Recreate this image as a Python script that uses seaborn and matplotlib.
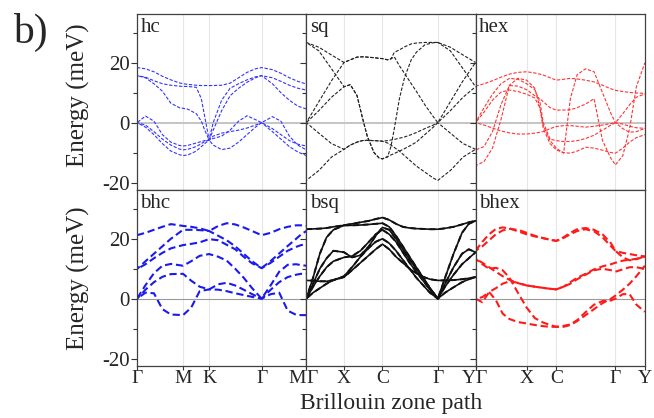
import matplotlib
matplotlib.use("Agg")
import matplotlib.pyplot as plt
import seaborn as sns

# ---- high-symmetry paths (fraction of the path length) ----
hc_ticks = [0, 0.272, 0.426, 0.736, 1]
hc_labels = ["Γ", "M", "K", "Γ", "M"]
sq_ticks = [0, 0.223, 0.45, 0.777, 1]
sq_labels = ["Γ", "X", "C", "Γ", "Y"]
hex_ticks = [0, 0.302, 0.477, 0.826, 1]
hex_labels = ["Γ", "X", "C", "Γ", "Y"]

# ---- top row: hc ----
hc_k = [0, .05, .1, .15, .2, .25, .272, .3, .35, .38, .4, .426, .45, .5, .55, .6, .65, .7, .736, .8, .85, .9, .95, 1]
hc_bands = [
    [18.4, 18.0, 17.0, 15.5, 14.3, 13.3, 13.0, 12.8, 12.5, 12.4, 12.4, 12.4, 12.4, 12.5, 13.2, 15.0, 16.8, 18.0, 18.4, 17.7, 16.5, 15.0, 13.8, 12.9],
    [15.7, 15.2, 14.0, 13.0, 12.5, 12.2, 12.1, 12.1, 11.8, 8.0, 2.0, -5.8, 0.0, 7.5, 11.5, 13.0, 14.3, 15.3, 15.7, 15.0, 13.8, 12.5, 11.5, 10.9],
    [15.7, 15.0, 13.0, 10.5, 6.5, 5.0, 4.8, 4.5, 3.0, 0.5, -2.5, -5.8, -2.5, 4.0, 9.0, 11.5, 13.5, 15.0, 15.7, 13.0, 10.0, 7.5, 5.5, 4.6],
    [0.0, 2.2, 0.5, -4.0, -6.5, -7.6, -7.8, -7.6, -6.8, -6.3, -6.0, -5.8, -5.3, -4.5, -2.5, 0.5, 2.3, 1.0, 0.0, -2.0, -4.0, -6.0, -7.2, -7.8],
    [0.0, -0.8, -3.0, -5.5, -7.5, -8.8, -9.1, -8.9, -8.0, -7.0, -6.3, -5.8, -7.5, -9.0, -8.5, -6.5, -4.0, -1.5, 0.0, 2.0, 0.5, -4.5, -7.5, -9.1],
    [0.0, -1.5, -4.0, -7.0, -9.5, -10.7, -11.0, -10.8, -9.5, -8.0, -7.0, -5.8, -4.5, -3.5, -3.0, -2.5, -1.8, -0.8, 0.0, -3.0, -5.5, -8.0, -9.8, -11.0],
]

# ---- top row: sq ----
sq_k = [0, .074, .149, .223, .26, .30, .33, .36, .40, .43, .45, .48, .50, .52, .55, .58, .62, .65, .70, .75, .777, .851, .926, 1]
sq_bands = [
    [26.8, 25.2, 22.6, 20.1, 21.0, 21.9, 22.0, 21.9, 21.7, 21.5, 21.4, 21.0, 21.3, 23.5, 24.3, 25.3, 26.3, 26.6, 26.8, 26.8, 26.8, 25.2, 22.6, 20.1],
    [0.0, 7.0, 14.0, 20.1, 21.0, 21.9, 22.0, 21.9, 21.7, 21.5, 21.4, 21.0, 21.3, 22.0, 19.0, 16.5, 13.0, 10.5, 6.0, 2.0, 0.0, 7.0, 14.0, 20.1],
    [26.8, 24.0, 18.0, 12.0, 12.7, 9.0, 2.0, -4.5, -10.0, -11.8, -12.1, -11.5, -8.0, -2.0, 8.0, 15.0, 21.0, 23.5, 26.0, 26.7, 26.8, 24.0, 18.0, 12.0],
    [0.0, 4.0, 8.5, 12.0, 12.7, 9.0, 2.0, -4.5, -10.0, -11.8, -12.1, -11.3, -10.8, -10.3, -9.5, -8.7, -7.5, -6.5, -4.0, -1.5, 0.0, 4.0, 8.5, 12.0],
    [0.0, -3.5, -7.0, -8.9, -7.5, -6.5, -6.0, -5.9, -6.0, -6.1, -6.2, -6.0, -5.8, -5.6, -5.2, -4.8, -4.0, -3.3, -2.0, -0.8, 0.0, -3.5, -7.0, -8.9],
    [-19.3, -16.0, -11.5, -8.9, -7.5, -6.5, -6.0, -5.9, -6.0, -6.1, -6.2, -6.8, -7.5, -8.3, -9.5, -11.0, -13.0, -14.5, -16.5, -18.5, -19.3, -16.0, -11.5, -8.9],
]

# ---- top row: hex ----
hex_k = [0, .05, .1, .15, .2, .25, .302, .35, .38, .40, .44, .477, .52, .56, .6, .65, .7, .75, .8, .826, .87, .91, .95, 1]
hex_bands = [
    [12.2, 13.0, 14.0, 15.2, 16.2, 16.8, 17.0, 16.6, 16.2, 15.9, 15.0, 14.2, 14.5, 14.8, 14.6, 14.2, 13.6, 12.5, 11.3, 10.8, 10.4, 10.1, 9.9, 9.8],
    [0.0, 5.0, 9.5, 13.0, 14.8, 14.5, 13.0, 11.0, 7.0, 0.0, -5.5, -6.0, -6.3, -6.3, -6.0, -5.3, -4.2, -2.5, -0.8, 0.0, 3.0, 6.0, 8.5, 9.6],
    [0.0, 3.5, 7.5, 10.2, 10.9, 10.4, 9.5, 8.2, 5.0, -1.0, -6.0, -8.5, -10.2, 8.0, 16.0, 18.0, 17.0, 10.0, 3.0, 0.0, -2.0, -3.2, -3.0, -1.9],
    [-9.1, -8.0, -3.0, 6.0, 12.4, 12.2, 11.0, 9.0, 8.0, 7.0, 5.0, 4.2, 4.2, 4.3, 5.0, 6.2, 8.0, -6.0, -12.0, -14.1, -11.0, -2.0, 12.0, 20.0],
    [-14.4, -13.0, -8.5, 1.0, 12.5, 14.8, 14.2, 11.5, 5.0, -2.0, -7.0, -9.1, -10.0, -10.2, -9.5, -8.2, -8.5, -9.2, -10.0, -10.2, -8.5, -6.5, -5.0, -4.0],
    [0.0, -0.8, -1.8, -2.8, -3.4, -3.8, -3.8, -3.5, -3.2, -3.0, -2.0, -1.3, -1.0, -1.0, -1.2, -1.5, -1.2, -0.8, -0.3, 0.0, -0.5, -1.2, -1.7, -1.9],
]

# ---- bottom row: bhc ----
bhc_k = [0, .05, .1, .15, .2, .272, .32, .37, .426, .48, .53, .58, .63, .68, .736, .79, .84, .89, .94, .97, 1]
bhc_bands = [
    [21.2, 22.0, 23.0, 24.0, 24.9, 24.3, 24.0, 23.5, 22.6, 24.3, 25.2, 24.8, 23.8, 22.6, 21.2, 22.0, 23.2, 24.0, 24.5, 24.5, 24.3],
    [9.9, 12.5, 15.0, 17.5, 20.0, 23.0, 23.0, 22.9, 22.6, 21.0, 19.5, 17.5, 15.0, 12.5, 10.2, 12.6, 15.1, 17.6, 20.0, 21.5, 22.6],
    [9.9, 11.5, 13.5, 15.3, 16.8, 17.9, 18.3, 18.8, 19.9, 19.5, 18.0, 16.5, 14.0, 11.8, 10.2, 12.0, 14.0, 16.0, 17.3, 17.9, 18.2],
    [0.0, 4.5, 8.5, 11.0, 11.6, 11.0, 12.5, 14.3, 14.9, 14.0, 12.7, 10.0, 7.0, 3.5, 0.0, 4.5, 9.0, 11.3, 11.5, 11.2, 11.0],
    [0.0, 3.0, 5.5, 7.3, 8.2, 8.3, 6.0, 4.0, 3.1, 4.8, 5.3, 4.4, 3.0, 1.5, 0.0, 3.0, 5.5, 7.2, 8.0, 8.3, 8.3],
    [0.0, 2.0, 1.8, -3.5, -5.3, -5.5, -3.0, 2.5, 3.1, 3.0, 2.5, 1.8, 1.2, 0.6, 0.0, 1.5, 2.0, -4.0, -5.4, -5.5, -5.5],
]

# ---- bottom row: bsq ----
bsq_k = [0, .04, .08, .12, .16, .223, .27, .32, .37, .41, .45, .49, .53, .57, .61, .65, .69, .73, .777, .82, .87, .92, .96, 1]
bsq_bands = [
    [23.2, 23.3, 23.4, 23.6, 24.0, 24.5, 25.0, 25.5, 26.0, 26.6, 27.1, 26.3, 25.0, 24.0, 23.6, 23.4, 23.3, 23.2, 23.2, 23.5, 24.0, 24.8, 25.5, 26.0],
    [0.0, 7.0, 15.0, 20.5, 23.0, 24.5, 24.5, 24.6, 24.8, 25.0, 25.2, 24.0, 21.0, 17.5, 14.0, 10.5, 7.0, 3.5, 0.0, 7.0, 15.0, 22.0, 25.0, 26.0],
    [0.0, 5.0, 10.0, 13.5, 16.0, 15.5, 13.8, 14.5, 17.5, 21.0, 23.8, 23.0, 20.0, 16.5, 13.0, 10.0, 7.0, 3.5, 0.0, 5.0, 10.5, 15.0, 16.5, 15.5],
    [6.1, 6.0, 5.8, 5.8, 6.2, 7.2, 9.5, 12.0, 14.5, 16.5, 18.2, 16.5, 14.0, 12.0, 10.0, 8.5, 7.3, 6.5, 6.1, 6.1, 6.2, 6.5, 6.8, 7.2],
    [0.0, 2.0, 3.5, 5.0, 6.2, 7.5, 10.5, 14.0, 17.0, 19.0, 20.0, 18.5, 16.0, 13.0, 10.0, 7.0, 4.5, 2.0, 0.0, 2.0, 3.8, 5.5, 6.5, 7.2],
    [0.0, 4.0, 7.5, 10.5, 12.5, 13.8, 14.2, 16.0, 19.0, 21.5, 23.0, 21.5, 19.0, 15.5, 12.0, 9.0, 6.0, 3.0, 0.0, 4.0, 8.0, 11.5, 13.5, 15.5],
]

# ---- bottom row: bhex ----
bhex_k = [0, .04, .08, .12, .16, .2, .25, .302, .35, .4, .44, .477, .52, .56, .6, .65, .7, .75, .8, .826, .87, .91, .95, 1]
bhex_bands = [
    [16.0, 19.0, 21.5, 23.3, 23.8, 23.5, 22.5, 21.5, 20.8, 20.2, 19.7, 19.3, 20.3, 21.5, 22.6, 23.2, 22.5, 20.5, 17.5, 16.0, 15.3, 14.9, 14.5, 14.1],
    [16.0, 17.5, 19.5, 21.5, 22.8, 23.3, 23.0, 22.0, 21.0, 20.2, 19.7, 19.3, 20.5, 22.0, 23.2, 23.6, 23.0, 21.5, 18.5, 16.0, 13.8, 12.8, 13.2, 14.1],
    [13.3, 12.0, 10.5, 9.0, 7.5, 6.3, 5.2, 4.4, 4.0, 3.6, 3.3, 3.1, 4.0, 5.5, 7.0, 8.3, 9.8, 10.8, 11.5, 12.0, 12.7, 13.0, 13.3, 14.1],
    [0.0, -1.2, 2.2, 3.5, 5.0, 5.8, 5.3, 4.4, 4.0, 3.6, 3.3, 3.1, 4.0, 5.0, 6.5, 8.0, 9.5, 10.0, 9.5, 9.0, 9.8, 10.5, 10.5, 9.9],
    [13.3, 11.5, 10.0, 10.3, 9.5, 7.0, 2.0, -3.0, -6.5, -8.0, -8.8, -9.4, -9.4, -8.8, -7.5, -5.5, -3.5, -1.5, 0.0, 1.0, 3.0, 5.0, 7.5, 11.0],
    [0.0, 0.5, 2.2, -0.5, -5.0, -6.8, -7.8, -8.3, -8.8, -9.2, -9.4, -9.4, -9.1, -8.6, -7.2, -4.5, -2.0, -0.8, -0.6, 0.0, 1.5, 1.5, -2.0, -4.4],
]

sns.set_theme(style="white")
plt.rcParams['font.family'] = ['Liberation Serif', 'DejaVu Serif']

fig, axes = plt.subplots(2, 3, figsize=(6.54, 4.18), dpi=100, sharey=True)
fig.subplots_adjust(left=0.2095, right=0.986, top=0.9665, bottom=0.1244, wspace=0, hspace=0)

panels = [
    (axes[0, 0], hc_k, hc_bands, hc_ticks, hc_labels, "hc", "#3333ff", "top"),
    (axes[0, 1], sq_k, sq_bands, sq_ticks, sq_labels, "sq", "#222222", "top"),
    (axes[0, 2], hex_k, hex_bands, hex_ticks, hex_labels, "hex", "#ff3333", "top"),
    (axes[1, 0], bhc_k, bhc_bands, hc_ticks, hc_labels, "bhc", "#1a1aee", "bottom"),
    (axes[1, 1], bsq_k, bsq_bands, sq_ticks, sq_labels, "bsq", "#111111", "bsq"),
    (axes[1, 2], bhex_k, bhex_bands, hex_ticks, hex_labels, "bhex", "#ff1a1a", "bottom"),
]

for ax, k, bands, ticks, labels, name, color, kind in panels:
    for t in ticks[1:-1]:
        ax.axvline(t, color="#e6e6e6", lw=0.8, zorder=0)
    if kind == "top":
        ax.axhline(0, color="#c4c4c4", lw=1.4, zorder=1)
    else:
        ax.axhline(0, color="#9a9a9a", lw=0.8, zorder=1)

    for i, E in enumerate(bands):
        if kind == "top":
            sns.lineplot(x=k, y=E, ax=ax, color=color, lw=0.8, estimator=None,
                         linestyle=(i * 1.3, (3, 1.5)), legend=False)
        elif kind == "bottom":
            sns.lineplot(x=k, y=E, ax=ax, color=color, lw=1.5, estimator=None,
                         linestyle=(i * 1.7, (3.5, 1.8)), legend=False)
        else:
            sns.lineplot(x=k, y=E, ax=ax, color=color, lw=1.2, estimator=None,
                         linestyle="-", legend=False)
            sns.lineplot(x=k, y=E, ax=ax, color=color, lw=1.4, estimator=None,
                         linestyle=(i, (3, 2)), legend=False)

    ax.set_xlim(0, 1)
    ax.set_ylim(-22.5, 36.3)
    ax.set_xlabel("")
    ax.set_ylabel("")
    ax.set_yticks([-20, 0, 20])
    ax.set_yticklabels(["-20", "0", "20"])
    ax.set_yticks([-10, 10, 30], minor=True)
    ax.tick_params(axis="y", which="both", direction="out", left=True, color="#333333",
                   width=0.8, labelsize=15, pad=1)
    ax.tick_params(axis="y", which="major", length=4)
    ax.tick_params(axis="y", which="minor", length=3)
    ax.set_xticks(ticks)
    if kind == "top":
        ax.tick_params(axis="x", length=0, labelbottom=False)
    else:
        ax.set_xticklabels(labels)
        ax.tick_params(axis="x", direction="out", bottom=True, length=3, width=0.8,
                       color="#333333", labelsize=14, pad=0)
    for s in ax.spines.values():
        s.set_color("#404040")
        s.set_linewidth(0.9)
    ax.text(0.02, 0.975, name, transform=ax.transAxes, ha="left", va="top", fontsize=15)

# boundary labels sit side by side
for ax in [axes[1, 0], axes[1, 1]]:
    ax.get_xticklabels()[-1].set_ha("right")
for ax in [axes[1, 1], axes[1, 2]]:
    ax.get_xticklabels()[0].set_ha("left")

for ax in axes[:, 1:].ravel():
    ax.tick_params(axis="y", labelleft=False)

fig.text(13 / 654, 1 - 43 / 418, "b)", fontsize=30, va="baseline", ha="left")
fig.text(78 / 654, 1 - 95 / 418, "Energy (meV)", rotation=90, ha="center", va="center", fontsize=18)
fig.text(78 / 654, 1 - 278 / 418, "Energy (meV)", rotation=90, ha="center", va="center", fontsize=18)
fig.text(391 / 654, 1 - 403 / 418, "Brillouin zone path", ha="center", va="center", fontsize=17)

fig.savefig("out.png", dpi=100)
